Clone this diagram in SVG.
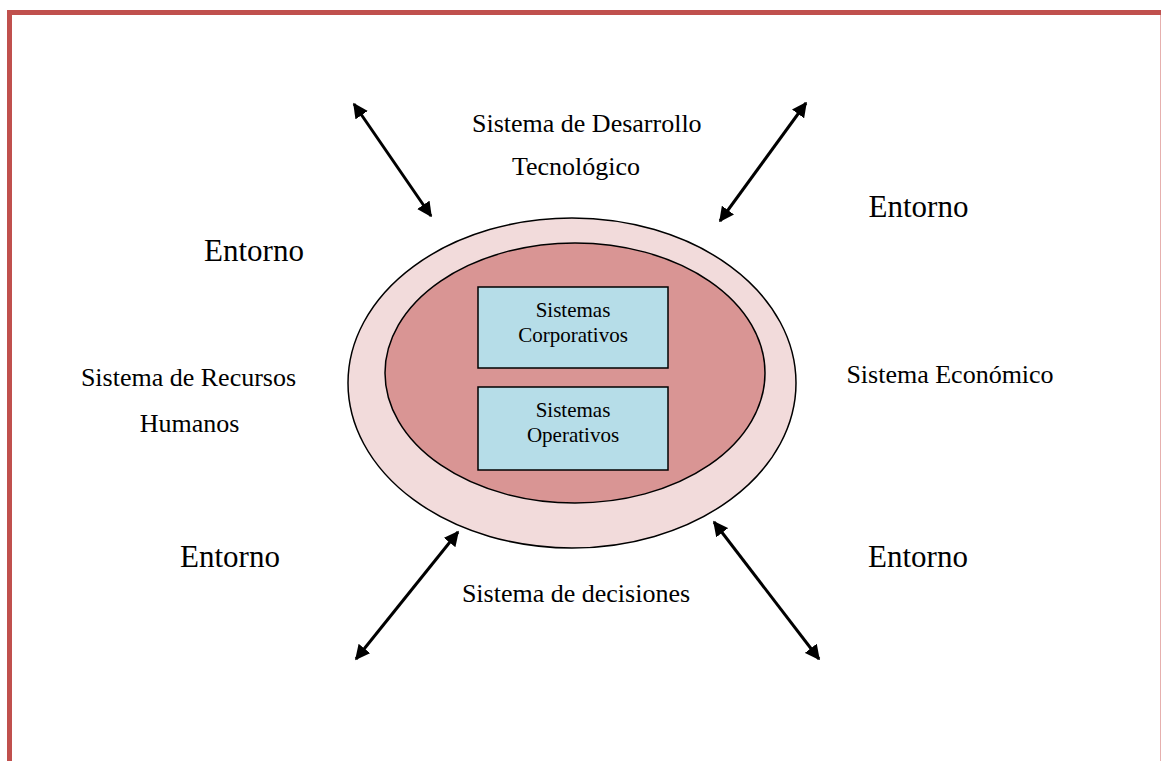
<svg xmlns="http://www.w3.org/2000/svg" width="1161" height="761" viewBox="0 0 1161 761">
<style>
text{font-family:"Liberation Serif","Times New Roman",serif;fill:#000}
.l{font-size:26px}
.e{font-size:31px}
.b{font-size:21px}
.c{stroke:#000;stroke-width:3;fill:none;marker-start:url(#ah);marker-end:url(#ah)}
</style>
<defs>
<marker id="ah" viewBox="0 0 10 10" refX="9" refY="5" markerWidth="5" markerHeight="5" orient="auto-start-reverse" markerUnits="strokeWidth">
<path d="M0,0 L10,5 L0,10 z" fill="#000"/>
</marker>
</defs>
<rect width="1161" height="761" fill="#fff"/>
<g id="border">
<line x1="7" y1="12.5" x2="1161" y2="12.5" stroke="#C0504D" stroke-width="5"/>
<line x1="9.5" y1="10" x2="9.5" y2="761" stroke="#C0504D" stroke-width="5"/>
<line x1="1160.5" y1="15" x2="1160.5" y2="761" stroke="#E6B0AE" stroke-width="1"/>
</g>
<g id="outer"><ellipse cx="572" cy="383" rx="224" ry="165" fill="#F2DBDB" stroke="#000" stroke-width="1.5"/></g>
<g id="inner"><ellipse cx="575" cy="373" rx="190" ry="130" fill="#D99594" stroke="#000" stroke-width="1.5"/></g>
<g id="corp"><rect x="478" y="287" width="190" height="81" fill="#B6DDE8" stroke="#000" stroke-width="1.5"/>
<text class="b" x="573" y="317" text-anchor="middle">Sistemas</text>
<text class="b" x="573" y="342" text-anchor="middle">Corporativos</text></g>
<g id="oper"><rect x="478" y="387" width="190" height="83" fill="#B6DDE8" stroke="#000" stroke-width="1.5"/>
<text class="b" x="573" y="417" text-anchor="middle">Sistemas</text>
<text class="b" x="573" y="442" text-anchor="middle">Operativos</text></g>
<g id="connectors">
<line class="c" x1="354" y1="104" x2="431" y2="216"/>
<line class="c" x1="806" y1="103" x2="720" y2="221"/>
<line class="c" x1="458" y1="532" x2="356" y2="659"/>
<line class="c" x1="714" y1="522" x2="819" y2="659"/>
</g>
<g id="labels">
<text class="l" x="472" y="132">Sistema de Desarrollo</text>
<text class="l" x="576" y="175" text-anchor="middle">Tecnológico</text>
<text class="e" x="918.5" y="217" text-anchor="middle">Entorno</text>
<text class="e" x="254" y="261" text-anchor="middle">Entorno</text>
<text class="l" x="188.5" y="386" text-anchor="middle">Sistema de Recursos</text>
<text class="l" x="189.5" y="432" text-anchor="middle">Humanos</text>
<text class="l" x="950" y="383" text-anchor="middle">Sistema Económico</text>
<text class="e" x="230" y="567" text-anchor="middle">Entorno</text>
<text class="e" x="918" y="567" text-anchor="middle">Entorno</text>
<text class="l" x="576" y="602" text-anchor="middle">Sistema de decisiones</text>
</g>
</svg>
